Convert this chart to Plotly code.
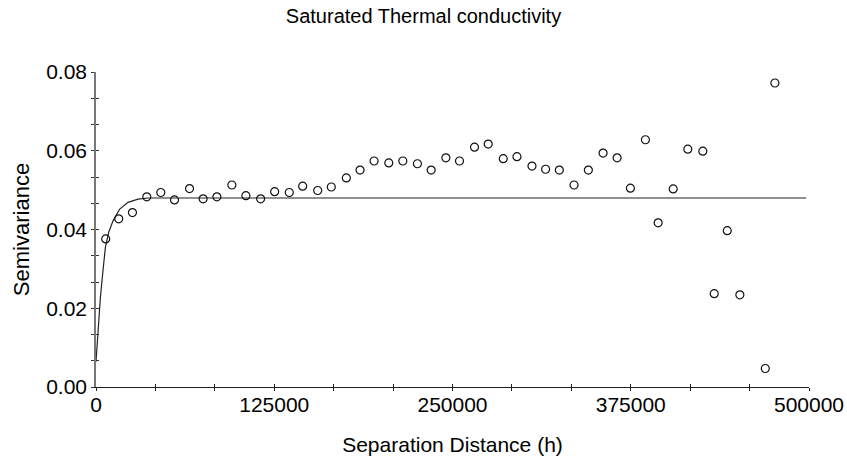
import plotly.graph_objects as go

# Experimental semivariogram (lag distance h, semivariance)
lag_h = [6811, 15940, 25560, 35602, 45432, 55052, 65585, 75135, 84755, 95289,
         105119, 115442, 125272, 135525, 144934, 155467, 165017, 175550, 185170, 195001,
         205323, 215154, 225406, 235026, 245349, 254899, 265432, 275052, 285585, 295205,
         305738, 315288, 324908, 335230, 345272, 355594, 365425, 374764, 385297, 394215,
         404756, 415000, 425533, 433538, 442667, 451515, 469351, 476092]
semivar = [0.0376, 0.0427, 0.0443, 0.0483, 0.0494, 0.0475, 0.0504, 0.0478, 0.0483, 0.0513,
           0.0486, 0.0478, 0.0496, 0.0494, 0.0510, 0.0499, 0.0508, 0.0531, 0.0551, 0.0574,
           0.0569, 0.0574, 0.0567, 0.0551, 0.0582, 0.0574, 0.0609, 0.0617, 0.0580, 0.0585,
           0.0561, 0.0553, 0.0551, 0.0513, 0.0551, 0.0594, 0.0582, 0.0505, 0.0628, 0.0417,
           0.0503, 0.0604, 0.0599, 0.0237, 0.0397, 0.0234, 0.0047, 0.0772]

# Fitted model curve
model_h = [0, 1400, 3090, 4900, 6600, 8900, 11940, 16640, 22470, 29500, 36500, 498000]
model_g = [0.0064, 0.0144, 0.0228, 0.0296, 0.0355, 0.0393, 0.0422, 0.0452, 0.0469, 0.0477, 0.0480, 0.0480]

x_ticks = [0, 125000, 250000, 375000, 500000]
y_ticks = [0.00, 0.02, 0.04, 0.06, 0.08]

FONT = "Liberation Sans, Arial, sans-serif"

fig = go.Figure()
fig.add_trace(go.Scatter(x=model_h, y=model_g, mode="lines",
                         line=dict(color="#222222", width=1.2), hoverinfo="skip"))
fig.add_trace(go.Scatter(x=lag_h, y=semivar, mode="markers",
                         marker=dict(symbol="circle-open", size=8, color="#111111",
                                     line=dict(width=1.2, color="#111111"))))
# invisible trace for the overlay axes (inside half of the crossing ticks)
fig.add_trace(go.Scatter(x=[0], y=[0], xaxis="x2", yaxis="y2", mode="markers",
                         marker=dict(opacity=0), hoverinfo="skip"))

tick_font = dict(family=FONT, size=21, color="#000000")
title_font = dict(family=FONT, size=21, color="#000000")

fig.update_layout(
    width=847, height=464,
    margin=dict(l=96, r=38, t=72, b=77, autoexpand=False),
    paper_bgcolor="white", plot_bgcolor="white",
    showlegend=False,
    font=tick_font,
    title=dict(text="Saturated Thermal conductivity", x=0.5, xref="container",
               y=1 - 16 / 464, yref="container", yanchor="middle", xanchor="center",
               font=dict(family=FONT, size=20, color="#000000")),
    xaxis=dict(range=[0, 500000], tickvals=x_ticks, ticktext=[str(v) for v in x_ticks],
               automargin=False, ticklabelstandoff=-4,
               showgrid=False, zeroline=False, showline=True, linecolor="#222222", linewidth=1.2,
               ticks="outside", ticklen=3, tickcolor="#222222", tickwidth=1.2,
               minor=dict(dtick=125000 / 3, ticks="outside", ticklen=3, tickcolor="#222222", tickwidth=1.2),
               tickfont=tick_font,
               title=dict(text="Separation Distance (h)", font=title_font, standoff=22)),
    yaxis=dict(range=[0, 0.08], tickvals=y_ticks, ticktext=["%.2f" % v for v in y_ticks],
               automargin=False,
               showgrid=False, zeroline=False, showline=True, linecolor="#777777", linewidth=1.5,
               ticks="outside", ticklen=3, tickcolor="#333333", tickwidth=1.2,
               minor=dict(dtick=0.02 / 3, ticks="outside", ticklen=3, tickcolor="#333333", tickwidth=1.2),
               tickfont=tick_font,
               title=dict(text="Semivariance", font=dict(family=FONT, size=22, color="#000000"), standoff=10)),
    xaxis2=dict(overlaying="x", range=[0, 500000], showgrid=False, zeroline=False, showline=False,
                automargin=False,
                tickvals=x_ticks, showticklabels=False, ticks="inside", ticklen=3,
                tickcolor="#222222", tickwidth=1.2,
                minor=dict(dtick=125000 / 3, ticks="inside", ticklen=3, tickcolor="#222222", tickwidth=1.2)),
    yaxis2=dict(overlaying="y", range=[0, 0.08], showgrid=False, zeroline=False, showline=False,
                automargin=False,
                tickvals=y_ticks, showticklabels=False, ticks="inside", ticklen=3,
                tickcolor="#333333", tickwidth=1.2,
                minor=dict(dtick=0.02 / 3, ticks="inside", ticklen=3, tickcolor="#333333", tickwidth=1.2)),
)

fig.write_html("out.html",
               config={"displayModeBar": False},
               post_script="document.body.style.margin='0';document.body.style.padding='0';"
                           "document.body.style.overflow='hidden';")
